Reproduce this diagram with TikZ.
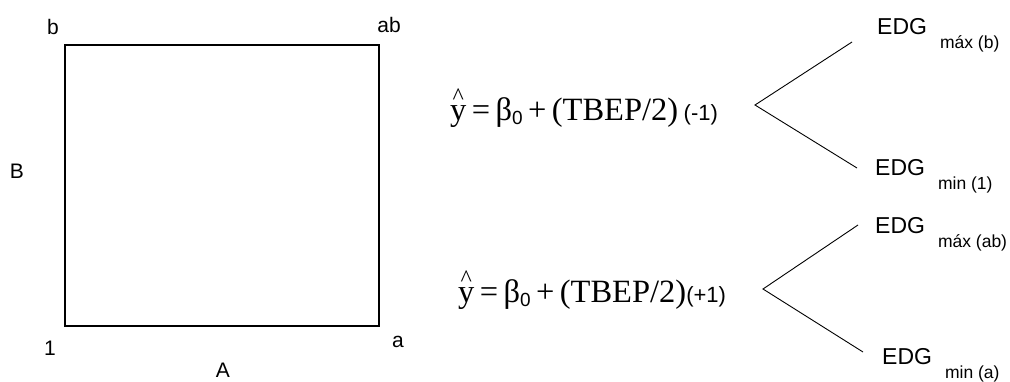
\documentclass[tikz,border=0pt]{standalone}
\usepackage{fontspec}
\setmainfont{Liberation Serif}
\setsansfont{Liberation Sans}
\newcommand\eqsub[1]{\raisebox{-4pt}{\sffamily\fontsize{19}{20}\selectfont #1}}
\newcommand\edgsub[1]{\hspace{13pt}\raisebox{-14pt}{\fontsize{17.5}{20}\selectfont #1}}
\newcommand\sfpar[1]{{\sffamily\fontsize{22}{24}\selectfont #1}}
\newcommand\yhat{\ooalign{y\cr\hidewidth\raisebox{16pt}{\fontsize{24}{24}\selectfont\^{}}\hidewidth\cr}}
\begin{document}
\begin{tikzpicture}[x=1pt,y=-1pt,
 lbl/.style={font=\sffamily\fontsize{21}{24}\selectfont, inner sep=0pt, anchor=base},
 edg/.style={font=\sffamily\fontsize{23}{25}\selectfont, inner sep=0pt, anchor=base west},
 eqn/.style={font=\fontsize{32.5}{36}\selectfont, inner sep=0pt, anchor=base west},
 box/.style={line width=1.4pt, line join=miter},
 fork/.style={line width=0.9pt}]
\useasboundingbox (0,0) rectangle (1010,381);
% square
\coordinate (c1) at (65,326);
\coordinate (ca) at (379,326);
\coordinate (cab) at (379,45);
\coordinate (cb) at (65,45);
\draw[box] (c1) -- (ca) -- (cab) -- (cb) -- cycle;
% corner labels
\node[lbl] (lb) at (53,34) {b};
\node[lbl] (lab) at (389,32) {ab};
\node[lbl] (l1) at (50,355) {1};
\node[lbl] (la) at (398,347) {a};
\node[lbl] (lB) at (17,178) {B};
\node[lbl] (lA) at (223,377) {A};
% equations
\node[eqn] (eq1) at (450,120) {\yhat\,=\,β\eqsub{0}\,+\,(TBEP/2)\,\sfpar{(-1)}};
\node[eqn] (eq2) at (458,302) {\yhat\,=\,β\eqsub{0}\,+\,(TBEP/2)\sfpar{(+1)}};
% forks
\coordinate (v1) at (755,105);
\coordinate (u1) at (852,42);
\coordinate (d1) at (857,168);
\coordinate (v2) at (763,289);
\coordinate (u2) at (858,225);
\coordinate (d2) at (863,352);
\draw[fork] (u1) -- (v1) -- (d1);
\draw[fork] (u2) -- (v2) -- (d2);
% EDG labels
\node[edg] (e1) at (877,34) {EDG\edgsub{máx (b)}};
\node[edg] (e2) at (875,175) {EDG\edgsub{min (1)}};
\node[edg] (e3) at (875,233) {EDG\edgsub{máx (ab)}};
\node[edg] (e4) at (882,364) {EDG\edgsub{min (a)}};
\end{tikzpicture}
\end{document}
